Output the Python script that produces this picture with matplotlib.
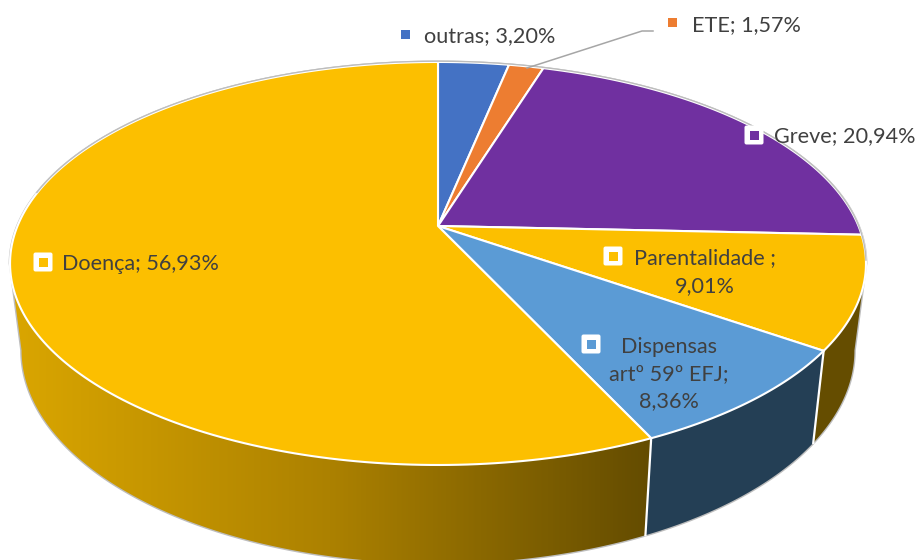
import numpy as np
import matplotlib
matplotlib.use("Agg")
import matplotlib.pyplot as plt
from matplotlib.colors import LinearSegmentedColormap
from matplotlib.patches import FancyBboxPatch, Polygon, Rectangle

plt.rcParams["font.family"] = ["Lato", "DejaVu Sans"]

categories = ["outras", "ETE", "Greve", "Parentalidade", "Dispensas artº 59º EFJ", "Doença"]
values = [3.20, 1.57, 20.94, 9.01, 8.36, 56.93]
labels = ["outras; 3,20%", "ETE; 1,57%", "Greve; 20,94%", "Parentalidade ;\n9,01%",
          "Dispensas\nartº 59º EFJ;\n8,36%", "Doença; 56,93%"]
top_colors = ["#4472C4", "#ED7D31", "#7030A0", "#FCBF00", "#5B9BD5", "#FCBF00"]
side_colors = [None, None, None, "#654D00", "#243F55", None]

# perspective of the disc, pixels
CX, CY = 438, 226
K = -0.186
A = 152.5
B = 420.5
# lower rim of the wall
X_SHRINK = 0.973
Y_DROP = 92
Y_STRETCH = 0.057
Y_REF = 350

# where the wall silhouette touches the rim, degrees
TANGENT_R = 100.7
TANGENT_L = 259.3

TEXT_COLOR = "#404040"
FONT_SIZE = 15.6


def top_rim(theta_deg):
    t = np.radians(theta_deg)
    u, v = np.sin(t), -np.cos(t)
    d = 1 + K * v
    return CX + B * u / d, (CY + A * v) / d


def low_rim(theta_deg):
    x, y = top_rim(theta_deg)
    return CX + (x - CX) * X_SHRINK, y + Y_DROP + Y_STRETCH * (y - Y_REF)


def arc(func, a0, a1):
    x, y = func(np.linspace(a0, a1, 200))
    return np.column_stack([x, y])


def wall_poly(a0, a1):
    return np.vstack([arc(top_rim, a0, a1), arc(low_rim, a0, a1)[::-1]])


def draw_walls(ax, edges):
    # grey silhouette behind everything
    outline = np.vstack([arc(top_rim, TANGENT_L - 360, TANGENT_R),
                         arc(low_rim, TANGENT_R, TANGENT_L)])
    ax.add_patch(Polygon(outline, closed=True, fc="white", ec="#BDBDBD", lw=2.0, zorder=1))

    for i in range(len(values)):
        a0 = max(edges[i], TANGENT_R)
        a1 = min(edges[i + 1], TANGENT_L)
        if a1 <= a0:
            continue
        poly = Polygon(wall_poly(a0, a1), closed=True, zorder=2,
                       fc=side_colors[i] or "none", ec="none")
        ax.add_patch(poly)
        if side_colors[i] is None:
            # big slice has a left-to-right gradient
            cmap = LinearSegmentedColormap.from_list(
                "wall", ["#DAA600", "#AC8100", "#644C00"])
            grad = np.linspace(0, 1, 400).reshape(1, -1)
            im = ax.imshow(grad, cmap=cmap, extent=(10, 651, 560, 200),
                           aspect="auto", zorder=2)
            im.set_clip_path(poly)
        # white seam down the wall
        if a0 == edges[i]:
            x0, y0 = top_rim(a0)
            x1, y1 = low_rim(a0)
            ax.plot([x0, x1], [y0, y1], color="white", lw=1.6, zorder=3)


def draw_top(ax, edges):
    for i in range(len(values)):
        rim = arc(top_rim, edges[i], edges[i + 1])
        pts = np.vstack([[CX, CY], rim])
        ax.add_patch(Polygon(pts, closed=True, fc=top_colors[i], ec="white",
                             lw=1.5, joinstyle="round", zorder=4))
    x, y = top_rim(np.linspace(-80, 100, 300))
    ax.plot(x, y - 0.8, color="#BDBDBD", lw=1.0, zorder=5)


def draw_key(ax, x, y, color, boxed=True):
    if boxed:
        ax.add_patch(FancyBboxPatch((x - 7, y - 7), 14, 14,
                                    boxstyle="round,pad=2.5,rounding_size=2",
                                    fc="white", ec="none", zorder=6))
    ax.add_patch(Rectangle((x - 4.5, y - 4.5), 9, 9, fc=color, ec="none", zorder=7))


def draw_labels(ax):
    ax.plot([527, 642, 653], [68, 31, 31], color="#A6A6A6", lw=1.1, zorder=5)

    draw_key(ax, 405, 34, top_colors[0], boxed=False)
    draw_key(ax, 672, 22, top_colors[1], boxed=False)
    draw_key(ax, 754, 135, top_colors[2])
    draw_key(ax, 613, 256, top_colors[3])
    draw_key(ax, 591, 344, top_colors[4])
    draw_key(ax, 43, 262, top_colors[5])

    txt = dict(color=TEXT_COLOR, fontsize=FONT_SIZE, va="center", zorder=8)
    ax.text(424, 36, labels[0], ha="left", **txt)
    ax.text(692, 25, labels[1], ha="left", **txt)
    ax.text(774, 136, labels[2], ha="left", **txt)
    ax.text(705, 272, labels[3], ha="center", multialignment="center",
            linespacing=1.45, **txt)
    ax.text(669, 374, labels[4], ha="center", multialignment="center",
            linespacing=1.42, **txt)
    ax.text(62, 264, labels[5], ha="left", **txt)


def main():
    fig = plt.figure(figsize=(9.17, 5.6), dpi=100)
    ax = fig.add_axes([0, 0, 1, 1])

    edges = np.concatenate([[0], np.cumsum(values)]) / sum(values) * 360

    draw_walls(ax, edges)
    draw_top(ax, edges)
    draw_labels(ax)

    ax.set_xlim(0, 917)
    ax.set_ylim(560, 0)
    ax.axis("off")
    fig.savefig("out.png", dpi=100)


if __name__ == "__main__":
    main()
